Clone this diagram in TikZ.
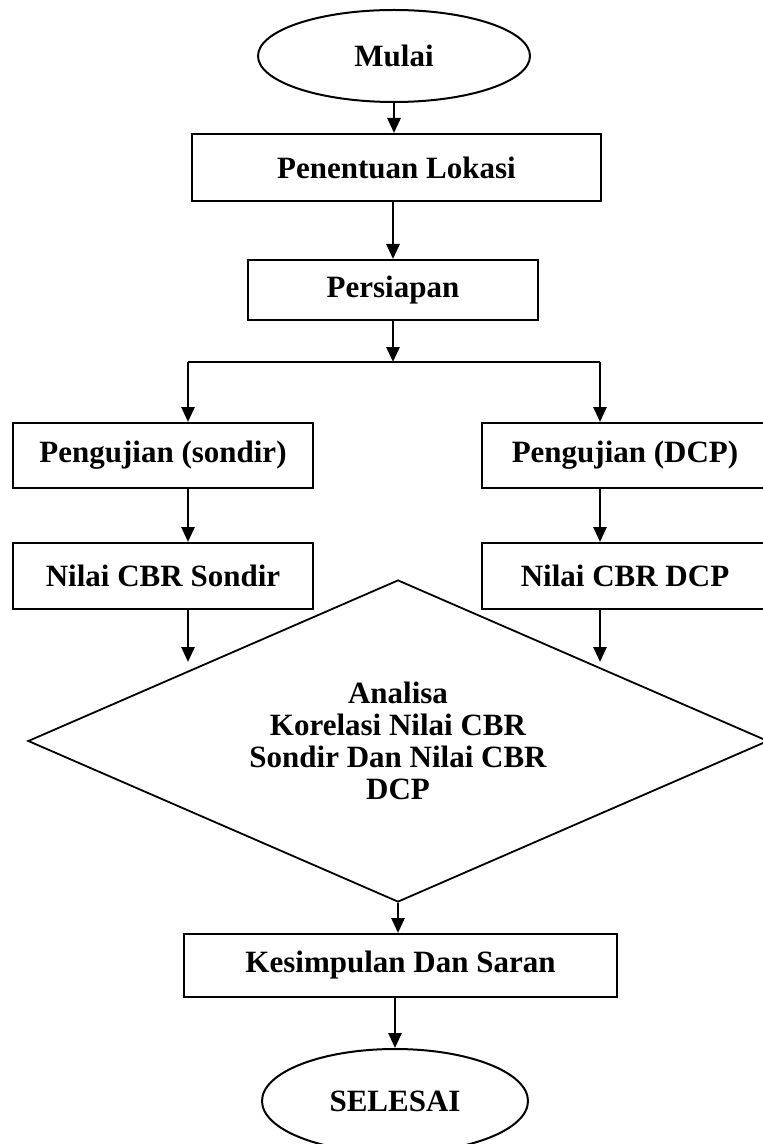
\documentclass[tikz,border=0pt]{standalone}
\usepackage{fontspec}
\setmainfont{Liberation Serif}
\usetikzlibrary{shapes.geometric,arrows.meta}

\begin{document}
\begin{tikzpicture}[x=0.5pt,y=-0.5pt,>={Triangle[length=7.5pt,width=6.5pt]},
	font=\fontsize{15.5}{16}\selectfont\bfseries,
	box/.style={draw,line width=1pt,rectangle,inner sep=0pt,align=center},
	oval/.style={draw,line width=1pt,ellipse,inner sep=0pt},
	arr/.style={->,line width=1.4pt}]
	%\draw [help lines] (0,0) grid (762,1144);
	\useasboundingbox (0,0) rectangle (762,1144);
	\node [oval, minimum width=136pt, minimum height=46pt] (mulai) at (394,56) {Mulai};
	\node [box, minimum width=204.5pt, minimum height=33.5pt] (lokasi) at (396.5,167.5) {Penentuan Lokasi};
	\node [box, minimum width=145pt, minimum height=30pt] (persiapan) at (393,290) {Persiapan};
	\node [box, minimum width=150pt, minimum height=32.5pt] (ujiS) at (163,455.5) {Pengujian (sondir)};
	\node [box, minimum width=143pt, minimum height=32.5pt] (ujiD) at (625,455.5) {Pengujian (DCP)};
	\node [box, minimum width=150pt, minimum height=33pt] (nilaiS) at (163,576) {Nilai CBR Sondir};
	\node [box, minimum width=143pt, minimum height=33pt] (nilaiD) at (625,576) {Nilai CBR DCP};
	\node [draw, line width=0.9pt, diamond, shape aspect=2.3, inner sep=0pt,
	      minimum width=370pt, minimum height=161pt, align=center] (analisa) at (398,741)
	      {Analisa\\Korelasi Nilai CBR\\Sondir Dan Nilai CBR\\DCP};
	\node [box, minimum width=216.5pt, minimum height=31.5pt] (saran) at (400.5,965.5) {Kesimpulan Dan Saran};
	\node [oval, minimum width=133pt, minimum height=52pt] (selesai) at (395,1101) {SELESAI};

	\coordinate (splitL) at (188,362);
	\coordinate (splitR) at (600,362);
	\coordinate (inS) at (188,662);
	\coordinate (inD) at (600,662);

	\draw [arr] (mulai.south) -- (mulai.south |- lokasi.north);
	\draw [arr] (persiapan.north |- lokasi.south) -- (persiapan.north);
	\draw [arr] (persiapan.south) -- (persiapan.south |- splitL);
	\draw [line width=1.4pt] (splitL) -- (splitR);
	\draw [arr] (splitL) -- (splitL |- ujiS.north);
	\draw [arr] (splitR) -- (splitR |- ujiD.north);
	\draw [arr] (splitL |- ujiS.south) -- (splitL |- nilaiS.north);
	\draw [arr] (splitR |- ujiD.south) -- (splitR |- nilaiD.north);
	\draw [arr] (inS |- nilaiS.south) -- (inS);
	\draw [arr] (inD |- nilaiD.south) -- (inD);
	\draw [arr] (analisa.south) -- (analisa.south |- saran.north);
	\draw [arr] (selesai.north |- saran.south) -- (selesai.north);
\end{tikzpicture}
\end{document}
